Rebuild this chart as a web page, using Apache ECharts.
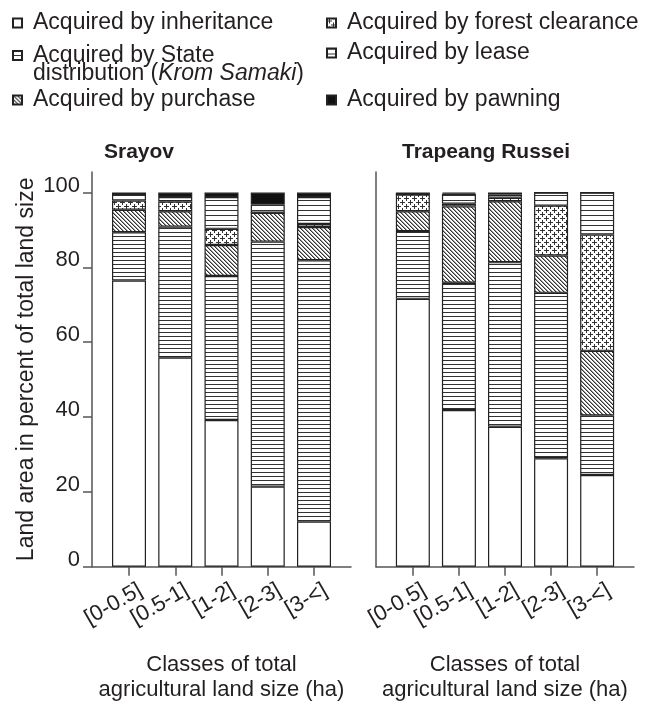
<!DOCTYPE html>
<html>
<head>
<meta charset="utf-8">
<script src="https://cdn.jsdelivr.net/npm/echarts@6/dist/echarts.min.js"></script>
<style>
html,body{margin:0;padding:0;background:#fff;}
#chart{width:646px;height:710px;}
</style>
</head>
<body>
<div id="chart"></div>
<script>
// ---- data ----
const categories = ['[0-0.5]', '[0.5-1]', '[1-2]', '[2-3]', '[3-<]'];
const categoryIndex = [0, 1, 2, 3, 4];
const yTicks = [0, 20, 40, 60, 80, 100];
const seriesNames = [
  'Acquired by inheritance',
  'Acquired by State distribution (Krom Samaki)',
  'Acquired by purchase',
  'Acquired by forest clearance',
  'Acquired by lease',
  'Acquired by pawning'
];
// Srayov (percent of total land size)
const srayovInheritance = [76.5, 55.9, 39.2, 21.4, 12.1];
const srayovState       = [12.9, 35.0, 38.5, 65.5, 69.8];
const srayovPurchase    = [6.0, 4.1, 8.3, 7.7, 8.9];
const srayovForest      = [2.5, 2.6, 4.3, 0, 0.8];
const srayovLease       = [1.7, 1.2, 8.5, 2.2, 7.2];
const srayovPawning     = [0.4, 1.2, 1.2, 3.2, 1.2];
// Trapeang Russei
const trapInheritance = [71.6, 41.9, 37.4, 29.0, 24.5];
const trapState       = [18.1, 34.0, 44.0, 44.2, 15.9];
const trapPurchase    = [5.3, 20.4, 16.3, 10.0, 17.3];
const trapForest      = [4.5, 0.7, 0.9, 13.3, 31.1];
const trapLease       = [0, 2.7, 0.9, 3.5, 11.2];
const trapPawning     = [0.5, 0.3, 0.5, 0, 0];

// ---- patterns ----
function pattern(w, h, draw) {
  const c = document.createElement('canvas');
  c.width = w; c.height = h;
  const g = c.getContext('2d');
  g.fillStyle = '#fff';
  g.fillRect(0, 0, w, h);
  draw(g);
  return { image: c, repeat: 'repeat' };
}
const fills = [
  '#ffffff',
  pattern(4, 4, g => { g.fillStyle = '#333'; g.fillRect(0, 0, 4, 1); }),
  pattern(4, 4, g => { g.fillStyle = '#333'; for (let i = 0; i < 4; i++) { g.fillRect(i, i, 1, 1); } g.fillStyle = '#999'; for (let i = 0; i < 4; i++) { g.fillRect((i + 1) % 4, i, 1, 1); } }),
  pattern(8, 8, g => { g.fillStyle = '#333'; g.fillRect(0, 2, 5, 1); g.fillRect(2, 0, 1, 5); g.fillRect(4, 6, 4, 1); g.fillRect(0, 6, 1, 1); g.fillRect(6, 4, 1, 4); g.fillRect(6, 0, 1, 1); }),
  pattern(5, 5, g => { g.fillStyle = '#333'; g.fillRect(0, 0, 5, 1); }),
  '#111111'
];

const FONT = "'Liberation Sans', Arial, Helvetica, sans-serif";
const TXT = '#231f20';
const AX = '#555';

function makeSeries(arrs, idx, stack) {
  return arrs.map((arr, k) => ({
    name: seriesNames[k],
    type: 'bar',
    stack: stack,
    xAxisIndex: idx,
    yAxisIndex: idx,
    barWidth: 34,
    encode: { x: 1, y: 0 },
    itemStyle: { color: fills[k], borderColor: '#222', borderWidth: 1.2 },
    emphasis: { disabled: true },
    data: arr.map((v, i) => [v, categoryIndex[i]])
  }));
}

const legendPos = [
  { left: 12, top: 10 },
  { left: 12, top: 26 },
  { left: 12, top: 87 },
  { left: 326, top: 10 },
  { left: 326, top: 40 },
  { left: 326, top: 87 }
];
const legends = seriesNames.map((nm, k) => ({
  data: [nm],
  left: legendPos[k].left,
  top: legendPos[k].top,
  padding: 0,
  selectedMode: false,
  itemWidth: 9,
  itemHeight: 9,
  icon: 'rect',
  textStyle: {
    fontSize: 23, color: TXT, fontFamily: FONT,
    lineHeight: k === 1 ? 18 : 26,
    padding: [0, 0, 0, 6],
    rich: { i: { fontStyle: 'italic', fontSize: 23, color: TXT, fontFamily: FONT, lineHeight: 18 } }
  },
  formatter: k === 1 ? '\nAcquired by State\ndistribution ({i|Krom Samaki})' : undefined
}));

function xAxis(gridIndex) {
  return {
    type: 'value', gridIndex: gridIndex, min: -0.8, max: 4.8,
    axisLine: { show: true, onZero: false, lineStyle: { color: AX, width: 1.5 } },
    axisTick: { show: true, length: 9, customValues: categoryIndex, lineStyle: { color: AX, width: 1.5 } },
    axisLabel: {
      customValues: categoryIndex.map(i => i + 0.25),
      formatter: v => categories[Math.floor(v)],
      rotate: 30, margin: 22, fontSize: 22, color: TXT, fontFamily: FONT
    },
    splitLine: { show: false },
    name: 'Classes of total\nagricultural land size (ha)',
    nameLocation: 'middle', nameGap: 86,
    nameTextStyle: { fontSize: 22, color: TXT, fontFamily: FONT, lineHeight: 25 }
  };
}

const option = {
  animation: false,
  backgroundColor: '#fff',
  title: [
    { text: 'Srayov', left: 104, top: 142, padding: 0, textStyle: { fontSize: 21, fontWeight: 'bold', color: TXT, fontFamily: FONT } },
    { text: 'Trapeang Russei', left: 402, top: 142, padding: 0, textStyle: { fontSize: 21, fontWeight: 'bold', color: TXT, fontFamily: FONT } }
  ],
  legend: legends,
  grid: [
    { left: 92, width: 259, top: 172, bottom: 143.3, containLabel: false },
    { left: 376, width: 258, top: 172, bottom: 143.3, containLabel: false }
  ],
  xAxis: [xAxis(0), xAxis(1)],
  yAxis: [
    {
      type: 'value', gridIndex: 0, min: 0, max: 105.5,
      axisLine: { show: true, onZero: false, lineStyle: { color: AX, width: 1.5 } },
      axisTick: { show: true, length: 9, customValues: yTicks, lineStyle: { color: AX, width: 1.5 } },
      axisLabel: { customValues: yTicks, margin: 12, fontSize: 22, color: TXT, fontFamily: FONT, verticalAlign: 'bottom', lineHeight: 14 },
      splitLine: { show: false },
      name: 'Land area in percent of total land size',
      nameLocation: 'middle', nameGap: 54,
      nameTextStyle: { fontSize: 23, color: TXT, fontFamily: FONT }
    },
    {
      type: 'value', gridIndex: 1, min: 0, max: 105.5,
      axisLine: { show: true, onZero: false, lineStyle: { color: AX, width: 1.5 } },
      axisTick: { show: false },
      axisLabel: { show: false },
      splitLine: { show: false }
    }
  ],
  series: [
    ...makeSeries([srayovInheritance, srayovState, srayovPurchase, srayovForest, srayovLease, srayovPawning], 0, 'srayov'),
    ...makeSeries([trapInheritance, trapState, trapPurchase, trapForest, trapLease, trapPawning], 1, 'trap')
  ]
};

const chart = echarts.init(document.getElementById('chart'), null, { renderer: 'canvas' });
chart.setOption(option);
</script>
</body>
</html>
